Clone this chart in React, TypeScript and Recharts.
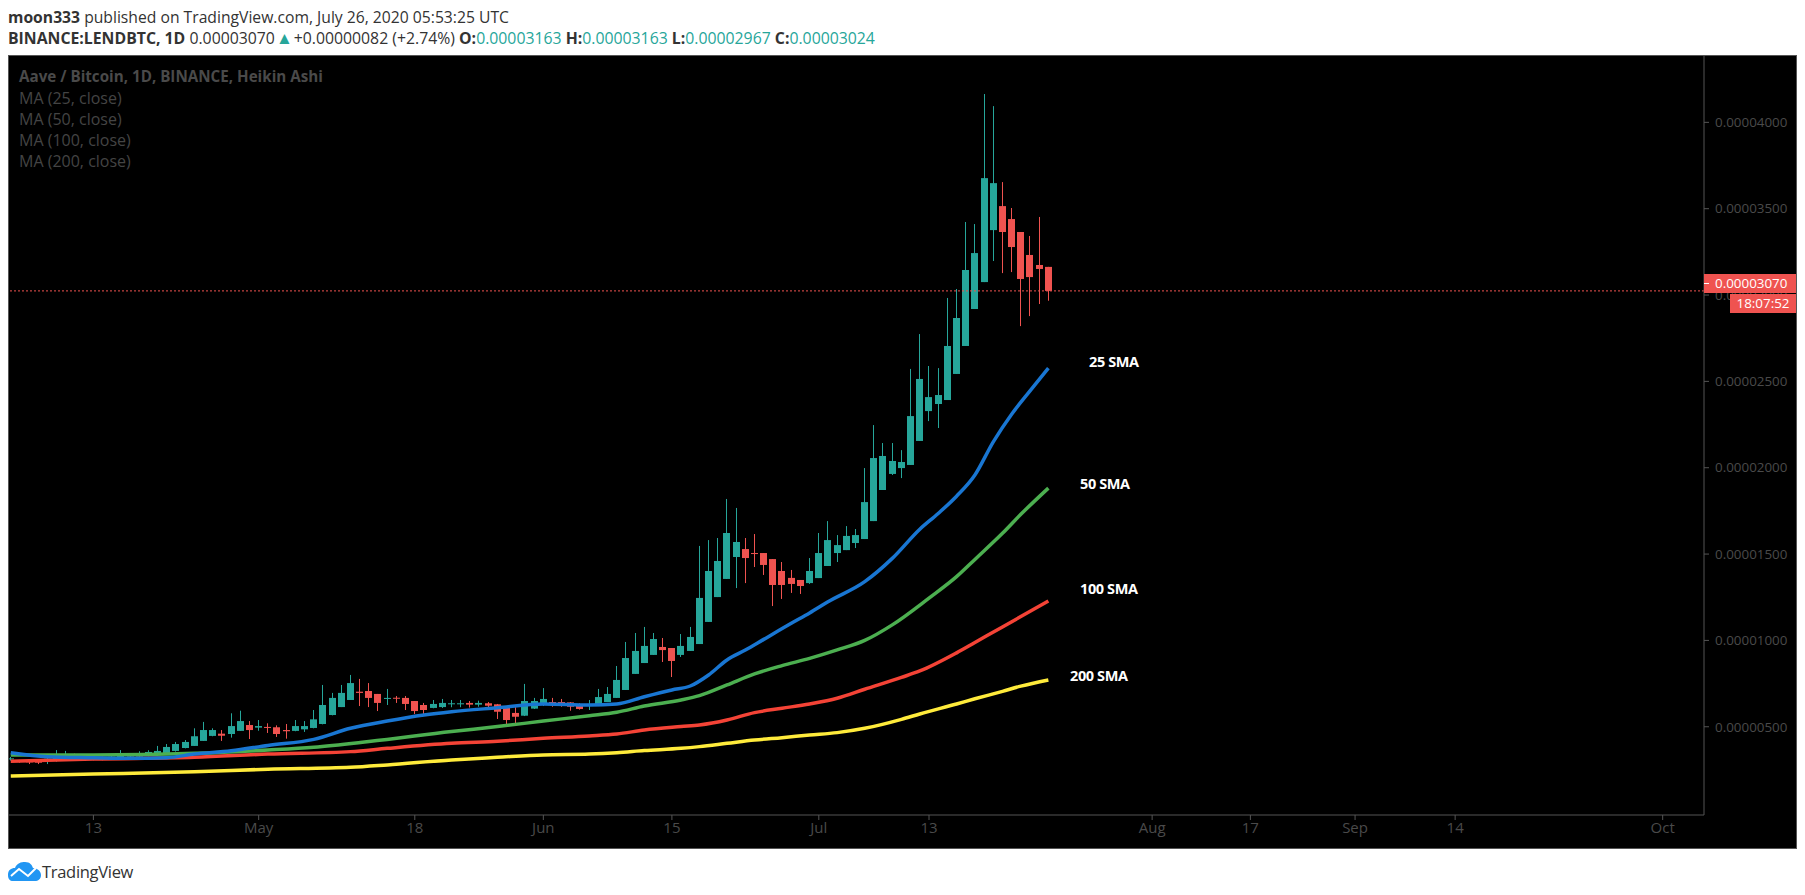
import { Bar, ComposedChart, Line, ReferenceLine, XAxis, YAxis } from 'recharts';

// prices are in satoshi (1e-8 BTC), days counted from Apr 13 2020
const firstDay = -9;
const candleOpen = [
  311, 304, 302, 300, 308, 302, 317, 333, 331, 323, 323, 313, 313, 327, 327, 333, 336, 346, 360, 377,
  389, 418, 447, 460, 458, 476, 510, 495, 499, 497, 481, 476, 485, 493, 516, 568, 614, 655, 703, 707,
  690, 661, 668, 667, 649, 626, 609, 614, 630, 630, 638, 628, 636, 630, 609, 580, 564, 605, 626, 643,
  643, 641, 632, 620, 620, 643, 667, 713, 806, 869, 916, 962, 956, 916, 939, 979, 1107, 1251, 1356, 1483,
  1529, 1506, 1506, 1471, 1402, 1362, 1350, 1332, 1361, 1431, 1506, 1523, 1564, 1587, 1691, 1871, 1964, 1998,
  2016, 2155, 2328, 2369, 2392, 2543, 2705, 2919, 3075, 3376, 3515, 3440, 3365, 3232, 3174, 3163,
];
const candleHigh = [
  325, 308, 304, 308, 327, 365, 360, 344, 333, 327, 327, 331, 365, 342, 358, 364, 389, 400, 412, 423,
  491, 528, 491, 481, 578, 593, 533, 539, 520, 508, 516, 539, 533, 597, 742, 696, 742, 800, 777, 753,
  690, 719, 678, 678, 649, 638, 655, 661, 655, 655, 649, 651, 643, 632, 609, 614, 748, 667, 724, 667,
  661, 643, 636, 655, 719, 730, 852, 991, 1043, 1078, 1043, 1014, 956, 1037, 1078, 1547, 1581, 1593, 1819, 1767,
  1593, 1616, 1506, 1471, 1454, 1408, 1350, 1477, 1622, 1691, 1610, 1662, 1645, 1998, 2247, 2143, 2143, 2102,
  2572, 2774, 2589, 2577, 2983, 3035, 3423, 3411, 4164, 4094, 3654, 3504, 3365, 3342, 3452, 3163,
];
const candleLow = [
  304, 292, 284, 284, 284, 298, 311, 311, 304, 306, 306, 308, 311, 323, 323, 329, 335, 342, 356, 375,
  389, 418, 445, 418, 437, 476, 429, 477, 464, 441, 431, 474, 470, 491, 514, 566, 614, 655, 620, 614,
  591, 626, 638, 597, 574, 566, 607, 609, 613, 613, 611, 616, 597, 545, 510, 510, 562, 603, 620, 616,
  616, 593, 599, 597, 620, 643, 667, 713, 806, 869, 916, 875, 788, 904, 939, 979, 1107, 1251, 1356, 1303,
  1332, 1425, 1379, 1199, 1240, 1275, 1269, 1327, 1361, 1431, 1454, 1523, 1535, 1587, 1691, 1871, 1958, 1940,
  2016, 2155, 2270, 2230, 2392, 2543, 2705, 2919, 3075, 3197, 3127, 3133, 2820, 2878, 2948, 2967,
];
const candleClose = [
  317, 298, 294, 292, 315, 338, 340, 325, 308, 311, 311, 327, 336, 335, 346, 354, 360, 383, 400, 412,
  445, 481, 481, 448, 504, 533, 481, 504, 495, 458, 474, 504, 504, 543, 626, 667, 696, 753, 696, 667,
  638, 667, 663, 632, 591, 597, 632, 638, 636, 636, 628, 638, 622, 587, 539, 558, 649, 649, 661, 638,
  638, 616, 603, 632, 672, 690, 771, 898, 939, 968, 1008, 944, 881, 968, 1020, 1246, 1402, 1460, 1622, 1570,
  1477, 1502, 1437, 1321, 1321, 1327, 1315, 1402, 1506, 1581, 1552, 1605, 1610, 1801, 2056, 2068, 2039, 2033,
  2299, 2514, 2409, 2421, 2705, 2867, 3145, 3243, 3677, 3648, 3365, 3278, 3093, 3104, 3151, 3024,
];

// moving averages at the days listed
const ma25Days = [-9, -5, 0, 4, 8, 11, 15, 19, 24, 28, 32, 36, 39, 44, 49, 54, 57, 60, 63, 65, 67, 69, 71, 73, 76, 78, 80, 84, 87, 90, 92, 94, 96, 98, 100, 102, 104];
const ma25Values = [350, 327, 321, 317, 321, 342, 361, 392, 427, 491, 533, 568, 587, 610, 632, 626, 632, 674, 713, 736, 800, 887, 944, 1006, 1099, 1159, 1224, 1340, 1475, 1644, 1735, 1835, 1958, 2150, 2310, 2445, 2577];
const ma50Days = [-9, 0, 11, 19, 24, 30, 39, 44, 49, 54, 57, 60, 64, 66, 69, 72, 75, 78, 81, 84, 87, 91, 94, 96, 99, 101, 104];
const ma50Values = [336, 336, 346, 365, 381, 414, 472, 501, 533, 564, 584, 620, 655, 680, 742, 806, 854, 896, 945, 1000, 1090, 1245, 1369, 1469, 1620, 1730, 1882];
const ma100Days = [-9, 0, 11, 19, 28, 32, 39, 44, 49, 54, 57, 60, 64, 66, 69, 72, 75, 78, 81, 84, 88, 90, 94, 96, 99, 101, 104];
const ma100Values = [300, 313, 323, 342, 356, 375, 404, 416, 433, 447, 458, 481, 501, 510, 539, 582, 607, 632, 665, 717, 786, 823, 928, 988, 1078, 1138, 1228];
const ma200Days = [-9, 0, 11, 19, 28, 32, 39, 44, 49, 54, 57, 60, 64, 66, 69, 72, 75, 78, 81, 84, 88, 90, 94, 96, 99, 101, 104];
const ma200Values = [215, 226, 240, 254, 265, 279, 308, 323, 337, 342, 350, 362, 375, 385, 404, 423, 437, 452, 466, 491, 543, 574, 632, 662, 705, 735, 771];

const timeTicks = [0, 18, 35, 49, 63, 79, 91, 115.3, 126, 137.4, 148.3, 170.9];
const timeLabels = ['13', 'May', '18', 'Jun', '15', 'Jul', '13', 'Aug', '17', 'Sep', '14', 'Oct'];
const priceTicks = [500, 1000, 1500, 2000, 2500, 3000, 3500, 4000];
const legendLines = ['MA (25, close)', 'MA (50, close)', 'MA (100, close)', 'MA (200, close)'];
const smaLabels = ['25 SMA', '50 SMA', '100 SMA', '200 SMA'];

const UP = '#26a69a';
const DOWN = '#ef5350';
const GRID = '#555555';
const DIM = '#4a4a4a';

const lookup = (days: number[], values: number[], day: number) => {
  const i = days.indexOf(day);
  return i < 0 ? undefined : values[i];
};

const rows = candleOpen.map((open, i) => {
  const day = firstDay + i;
  return {
    day,
    open,
    high: candleHigh[i],
    low: candleLow[i],
    close: candleClose[i],
    ma25: lookup(ma25Days, ma25Values, day),
    ma50: lookup(ma50Days, ma50Values, day),
    ma100: lookup(ma100Days, ma100Values, day),
    ma200: lookup(ma200Days, ma200Values, day),
  };
});

function Candle(props: any) {
  const { x, y, width, height, payload } = props;
  const { open, high, low, close } = payload;
  const perUnit = height / (high - low);
  const bodyTop = y + (high - Math.max(open, close)) * perUnit;
  const bodyHeight = Math.max(Math.abs(open - close) * perUnit, 1);
  const color = close >= open ? UP : DOWN;
  const left = Math.round(x);
  const mid = left + Math.floor(width / 2) + 0.5;
  return (
    <g>
      <line x1={mid} x2={mid} y1={y} y2={y + height} stroke={color} strokeWidth={1} />
      <rect x={left} y={bodyTop} width={width} height={bodyHeight} fill={color} />
    </g>
  );
}

const base: React.CSSProperties = {
  position: 'absolute',
  whiteSpace: 'nowrap',
  fontFamily: '"Open Sans", sans-serif',
};

function Logo() {
  return (
    <svg width={33} height={20} viewBox="0 0 33 20" style={{ position: 'absolute', left: 8, top: 861 }}>
      <path d="M0 14 C0 9 3 7 7 7 C9 2 13 1 17 1 C22 1 24 4 25 7 C29 7 33 10 33 14 C33 18 30 20 27 20 L5 20 C2 20 0 18 0 14 Z" fill="#2196f3" />
      <path d="M3 15 L11 8 L20 15 L28 7" stroke="#fff" strokeWidth={2} fill="none" />
    </svg>
  );
}

export default function App() {
  return (
    <div style={{ position: 'absolute', left: 0, top: 0, width: 1805, height: 895, background: '#fff', overflow: 'hidden' }}>
      <div style={{ ...base, left: 8, top: 6, fontSize: 15.7, lineHeight: '22px', color: '#333' }}>
        <b>moon333</b> published on TradingView.com, July 26, 2020 05:53:25 UTC
      </div>
      <div style={{ ...base, left: 8, top: 27, fontSize: 15.8, lineHeight: '22px', color: '#333' }}>
        <b>BINANCE:LENDBTC, 1D</b> 0.00003070<span style={{ color: UP, fontSize: 17, lineHeight: '18px', margin: '0 1px' }}>▲</span>+0.00000082 (+2.74%){' '}
        <b>O:</b><span style={{ color: UP }}>0.00003163</span> <b>H:</b><span style={{ color: UP }}>0.00003163</span>{' '}
        <b>L:</b><span style={{ color: UP }}>0.00002967</span> <b>C:</b><span style={{ color: UP }}>0.00003024</span>
      </div>

      <div style={{ position: 'absolute', left: 8, top: 55 }}>
        <ComposedChart
          width={1788}
          height={793}
          data={rows}
          margin={{ top: 0, right: 0, bottom: 0, left: 0 }}
          style={{ background: '#000' }}
        >
          <XAxis
            dataKey="day"
            type="number"
            domain={[-9.3, 175.4]}
            ticks={timeTicks}
            interval={0}
            height={33}
            stroke={GRID}
            tickSize={5}
            tick={{ fill: DIM, fontSize: 15, fontFamily: '"Open Sans", sans-serif' }}
            tickFormatter={(v) => timeLabels[timeTicks.indexOf(v)]}
          />
          <YAxis
            orientation="right"
            width={92}
            domain={[-11, 4390]}
            ticks={priceTicks}
            interval={0}
            stroke={GRID}
            tickSize={5}
            tickMargin={6}
            tick={{ fill: DIM, fontSize: 13.4, fontFamily: '"Open Sans", sans-serif' }}
            tickFormatter={(v) => (v / 1e8).toFixed(8)}
          />
          <ReferenceLine y={3024} stroke={DOWN} strokeDasharray="2 2" />
          <Bar dataKey={(d) => [d.low, d.high]} barSize={7} shape={Candle} isAnimationActive={false} />
          <Line dataKey="ma200" type="monotone" connectNulls stroke="#ffeb3b" strokeWidth={3.5} dot={false} isAnimationActive={false} />
          <Line dataKey="ma100" type="monotone" connectNulls stroke="#f44336" strokeWidth={3.5} dot={false} isAnimationActive={false} />
          <Line dataKey="ma50" type="monotone" connectNulls stroke="#4caf50" strokeWidth={3.5} dot={false} isAnimationActive={false} />
          <Line dataKey="ma25" type="monotone" connectNulls stroke="#1976d2" strokeWidth={3.5} dot={false} isAnimationActive={false} />
        </ComposedChart>
      </div>
      <div style={{ position: 'absolute', left: 8, top: 55, width: 1787, height: 792, border: `1px solid ${GRID}`, pointerEvents: 'none' }} />

      <div style={{ ...base, left: 19, top: 66, fontSize: 15.2, fontWeight: 700, color: DIM }}>
        Aave / Bitcoin, 1D, BINANCE, Heikin Ashi
      </div>
      {legendLines.map((t, i) => (
        <div key={t} style={{ ...base, left: 19, top: 87 + i * 21, fontSize: 16, lineHeight: '22px', color: '#444' }}>
          {t}
        </div>
      ))}

      {smaLabels.map((s, i) => (
        <div
          key={s}
          style={{
            ...base,
            left: [1089, 1080, 1080, 1070][i],
            top: [352, 474, 579, 666][i],
            fontSize: 14.5,
            fontWeight: 700,
            color: '#fff',
            letterSpacing: -0.4,
          }}
        >
          {s}
        </div>
      ))}

      <div style={{ position: 'absolute', left: 1704, top: 274, width: 92, height: 19, background: DOWN }} />
      <div style={{ position: 'absolute', left: 1704, top: 283, width: 5, height: 1, background: '#fff' }} />
      <div style={{ ...base, left: 1715, top: 274, fontSize: 13.4, lineHeight: '19px', color: '#fff' }}>0.00003070</div>
      <div style={{ ...base, left: 1730, top: 294, width: 66, height: 19, background: DOWN, textAlign: 'center', fontSize: 13.4, lineHeight: '19px', color: '#fff' }}>
        18:07:52
      </div>

      <Logo />
      <div style={{ ...base, left: 42, top: 860, fontSize: 16.5, color: '#333', letterSpacing: -0.3 }}>TradingView</div>
    </div>
  );
}
